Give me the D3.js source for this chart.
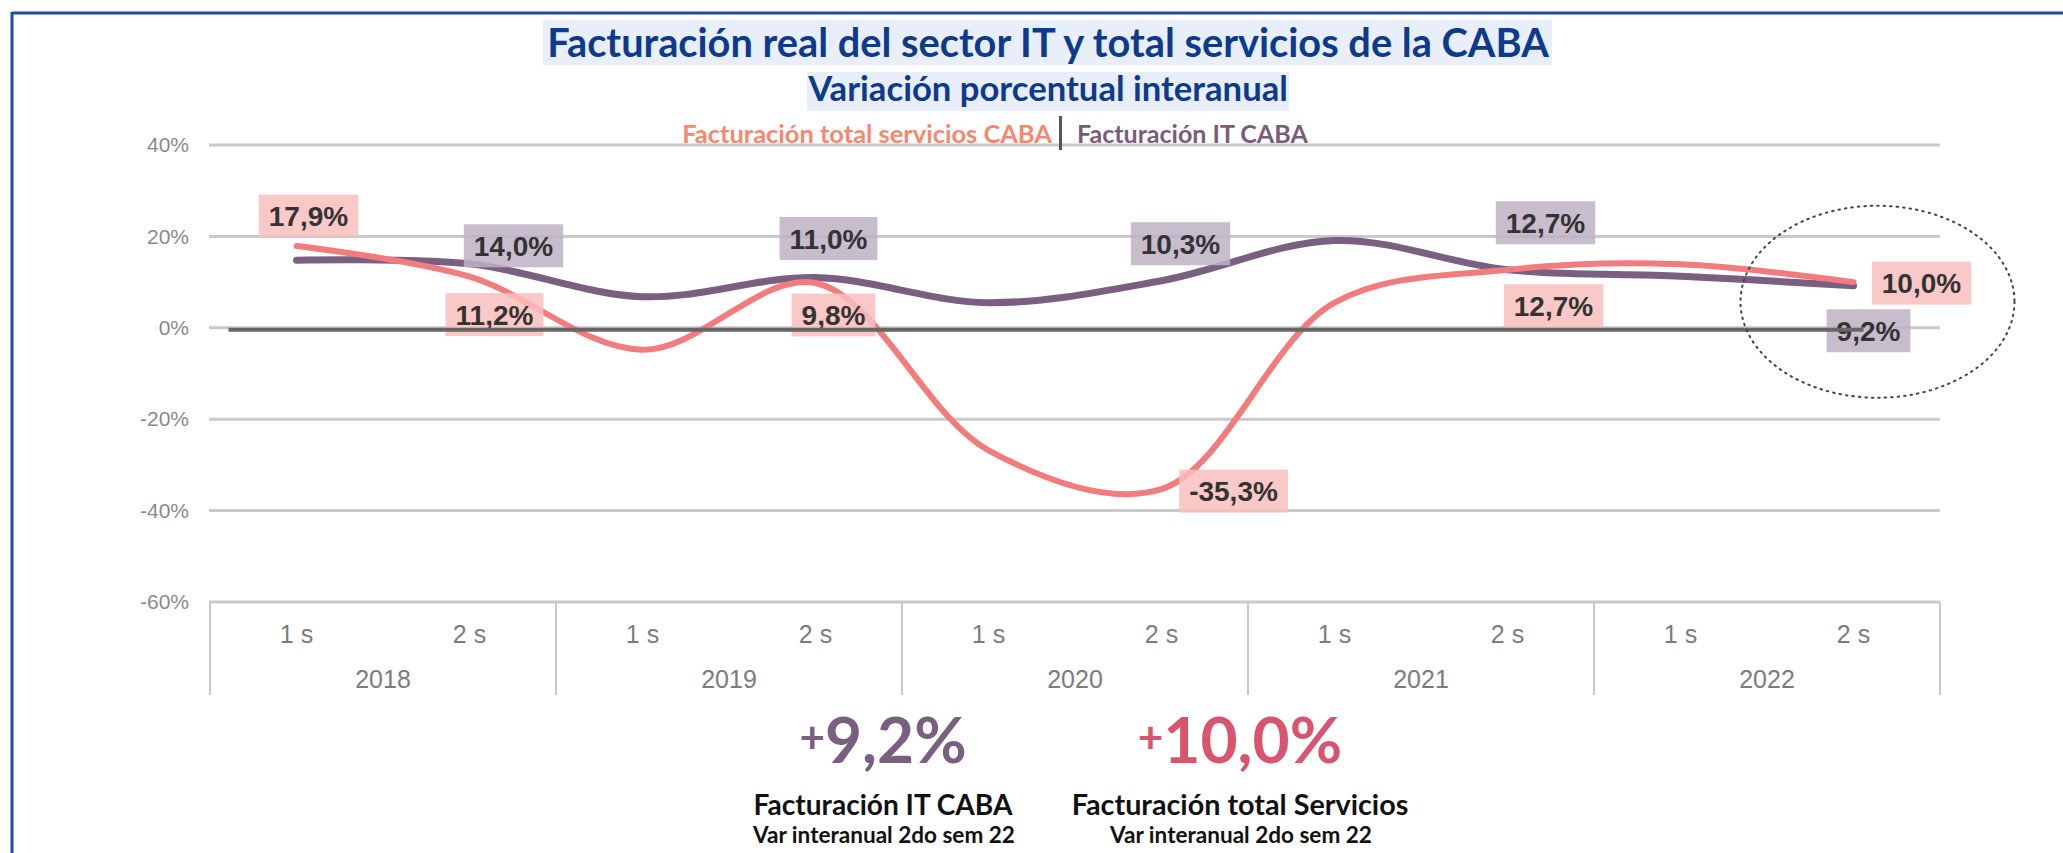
<!DOCTYPE html>
<html>
<head>
<meta charset="utf-8">
<script src="https://cdn.jsdelivr.net/npm/d3@7"></script>
<style>
  body{margin:0;background:#fff;}
  svg{display:block;}
</style>
</head>
<body>
<svg id="chart"></svg>
<script>
// data
var years=["2018","2019","2020","2021","2022"];
var semesters=["1 s","2 s"];
var servicios=[17.9,11.2,-4.8,9.8,-26.8,-35.3,5.5,12.7,13.9,10.0];
var itCaba=[14.8,14.0,6.8,11.0,5.5,10.3,19.1,12.7,11.3,9.2];
var servLabelIdx=[0,1,3,5,7,9];
var itLabelIdx=[1,3,5,7,9];
var yTicks=[-60,-40,-20,0,20,40];
var titleText="Facturación real del sector IT y total servicios de la CABA";
var subtitleText="Variación porcentual interanual";
var legendNames=["Facturación total servicios CABA","Facturación IT CABA"];
var kpiValues=["9,2%","10,0%"];
var kpiNames=["Facturación IT CABA","Facturación total Servicios"];
var kpiSub="Var interanual 2do sem 22";

// label box offsets from each point (layout, not data)
var servOffsets=[[12,-30],[25,38],[18,32],[72,2],[46,36],[68,1]];
var itOffsets=[[44,-18],[13,-39],[19,-37],[38,-47],[15,45]];

var W=2063,H=853;
var svg=d3.select("#chart").attr("width",W).attr("height",H);

var cats=[];
years.forEach(function(y){semesters.forEach(function(s){cats.push(y+"|"+s);});});

var margins={left:210,right:123,top:145,bottom:251};
var xScale=d3.scaleBand().domain(cats).range([margins.left,W-margins.right]).padding(0);
var yearScale=d3.scaleBand().domain(years).range([margins.left,W-margins.right]).padding(0);
var yScale=d3.scaleLinear().domain([-60,40]).range([H-margins.bottom,margins.top]);
var cx=function(i){return xScale(cats[i])+xScale.bandwidth()/2;};

var locale=d3.formatLocale({decimal:",",thousands:".",grouping:[3],currency:["$",""],minus:"-"});
var fmt=locale.format(".1f");

var pink="#f27b7e", purple="#7a5f80";

// frame
svg.append("line").attr("x1",12).attr("x2",W).attr("y1",13).attr("y2",13)
   .attr("stroke","#1f4ea3").attr("stroke-width",3);
svg.append("line").attr("x1",12).attr("x2",12).attr("y1",12).attr("y2",H)
   .attr("stroke","#1f4ea3").attr("stroke-width",3);

// fit a text to a width by changing font-size
var fitText=function(t,target){
  var w=t.node().getComputedTextLength();
  var fs=parseFloat(t.attr("font-size"));
  t.attr("font-size",fs*target/w);
};

// title
var titleFont="Lato, 'Open Sans', sans-serif";
var title=svg.append("g");
var tBox=title.append("rect").attr("fill","#e8effa");
var tText=title.append("text").attr("x",1048).attr("y",57).attr("text-anchor","middle")
   .attr("font-family",titleFont).attr("font-weight","bold").attr("font-size",34)
   .attr("fill","#0e3a8d").text(titleText);
fitText(tText,1002);
tBox.attr("x",543).attr("y",20).attr("width",1009).attr("height",45);

var sBox=title.append("rect").attr("fill","#e8effa");
var sText=title.append("text").attr("x",1048).attr("y",101).attr("text-anchor","middle")
   .attr("font-family",titleFont).attr("font-weight","bold").attr("font-size",28)
   .attr("fill","#0e3a8d").text(subtitleText);
fitText(sText,480);
sBox.attr("x",807).attr("y",72).attr("width",482).attr("height",39);

// gridlines
var grid=svg.append("g");
grid.selectAll("line").data(yTicks).enter().append("line")
    .attr("x1",margins.left-1).attr("x2",W-margins.right)
    .attr("y1",function(d){return yScale(d);}).attr("y2",function(d){return yScale(d);})
    .attr("stroke","#c9c9c9").attr("stroke-width",3);

// legend (drawn over top gridline)
var leg=svg.append("g").attr("font-family",titleFont).attr("font-weight","bold");
var l1=leg.append("text").attr("x",1052).attr("y",143).attr("font-size",21)
   .attr("text-anchor","end").attr("fill","#f5886f").text(legendNames[0]);
fitText(l1,370);
leg.append("rect").attr("x",1059).attr("y",116).attr("width",3).attr("height",34).attr("fill","#555");
var l2=leg.append("text").attr("x",1077).attr("y",143).attr("font-size",21)
   .attr("fill","#7b5b7c").text(legendNames[1]);
fitText(l2,231);

// y axis
var yAxis=d3.axisLeft(yScale).tickValues(yTicks).tickSize(0).tickPadding(21)
            .tickFormat(function(d){return d+"%";});
var yG=svg.append("g").attr("transform","translate("+margins.left+",0)").call(yAxis);
yG.select(".domain").remove();
yG.selectAll("text").attr("font-family","'Liberation Sans', Arial, sans-serif")
  .attr("font-size",21).attr("fill","#8a8a8a");

// x axis, two levels
var xG=svg.append("g").attr("font-family","'Liberation Sans', Arial, sans-serif")
          .attr("font-size",25).attr("fill","#7c7c7c");
var yb=yScale(-60);
var seps=years.map(function(y){return yearScale(y);}).concat([W-margins.right]);
xG.selectAll("line").data(seps).enter().append("line")
  .attr("x1",function(d){return d;}).attr("x2",function(d){return d;})
  .attr("y1",yb).attr("y2",yb+93).attr("stroke","#c9c9c9").attr("stroke-width",2);
xG.selectAll("text.sem").data(cats).enter().append("text").classed("sem",true)
  .attr("x",function(d){return xScale(d)+xScale.bandwidth()/2;})
  .attr("y",yb+41).attr("text-anchor","middle")
  .text(function(d){return d.split("|")[1];});
xG.selectAll("text.yr").data(years).enter().append("text").classed("yr",true)
  .attr("x",function(d){return yearScale(d)+yearScale.bandwidth()/2;})
  .attr("y",yb+86).attr("text-anchor","middle")
  .text(function(d){return d;});

// lines
var line=d3.line().x(function(d,i){return cx(i);}).y(function(d){return yScale(d);})
           .curve(d3.curveCatmullRom.alpha(0.5));
svg.append("path").datum(itCaba).attr("d",line).attr("fill","none")
   .attr("stroke",purple).attr("stroke-width",7).attr("stroke-linecap","round");
svg.append("path").datum(servicios).attr("d",line).attr("fill","none")
   .attr("stroke",pink).attr("stroke-width",6).attr("stroke-linecap","round");

// data labels
var drawLabels=function(values,idx,offsets,fill){
  var g=svg.append("g");
  idx.forEach(function(i,k){
    var px=cx(i)+offsets[k][0], py=yScale(values[i])+offsets[k][1];
    var lg=g.append("g");
    var r=lg.append("rect").attr("fill",fill);
    var t=lg.append("text").attr("x",px).attr("y",py+10).attr("text-anchor","middle")
      .attr("font-family","'Liberation Sans', Arial, sans-serif").attr("font-weight","bold")
      .attr("font-size",28).attr("fill","#333")
      .text(fmt(values[i])+"%");
    var w=t.node().getComputedTextLength()+20;
    r.attr("x",px-w/2).attr("y",py-21.5).attr("width",w).attr("height",43);
  });
};
drawLabels(servicios,servLabelIdx,servOffsets,"rgba(250,190,190,0.85)");
drawLabels(itCaba,itLabelIdx,itOffsets,"rgba(190,178,196,0.85)");

// zero line on top
svg.append("line").attr("x1",cx(0)-68).attr("x2",cx(9)+10)
   .attr("y1",yScale(0)+2).attr("y2",yScale(0)+2)
   .attr("stroke","#666").attr("stroke-width",4);

// dotted ellipse around last point
svg.append("ellipse").attr("cx",cx(9)+24).attr("cy",yScale(5.7))
   .attr("rx",137).attr("ry",96).attr("fill","none").attr("stroke","#444")
   .attr("stroke-width",2).attr("stroke-dasharray","1.5,5").attr("stroke-linecap","round");

// KPI block
var kpiX=[883,1240], kpiCol=[purple,"#d9546f"];
var nameW=[259,337];
kpiValues.forEach(function(v,i){
  var t=svg.append("text").attr("x",kpiX[i]).attr("y",763).attr("text-anchor","middle")
    .attr("font-family",titleFont).attr("font-weight","bold").attr("font-size",64)
    .attr("fill",kpiCol[i]);
  t.append("tspan").attr("font-size",44).attr("dy",-10).text("+");
  t.append("tspan").attr("dy",10).text(v);
  var n=svg.append("text").attr("x",kpiX[i]).attr("y",815).attr("text-anchor","middle")
    .attr("font-family",titleFont).attr("font-weight","bold").attr("font-size",24)
    .attr("fill","#111").text(kpiNames[i]);
  fitText(n,nameW[i]);
  var s=svg.append("text").attr("x",kpiX[i]+1).attr("y",843).attr("text-anchor","middle")
    .attr("font-family",titleFont).attr("font-weight","bold").attr("font-size",18)
    .attr("fill","#111").text(kpiSub);
  fitText(s,262);
});
</script>
</body>
</html>
